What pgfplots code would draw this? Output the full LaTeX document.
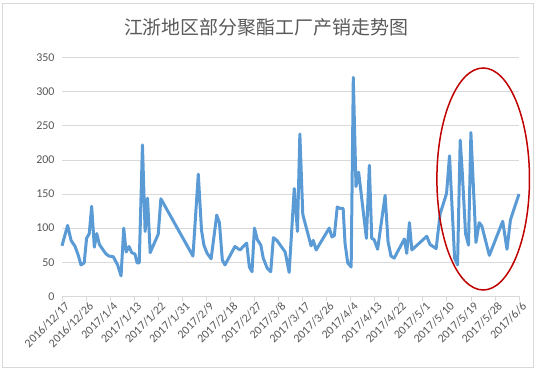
\documentclass[border=0pt]{standalone}
\usepackage{pgfplots}
\pgfplotsset{compat=1.18}
\usepackage{fontspec}
\setmainfont{Carlito}
\newfontfamily\cjk{Noto Sans CJK SC}
\definecolor{lineblue}{HTML}{5B9BD5}
\definecolor{gridgray}{HTML}{D9D9D9}
\definecolor{txtgray}{HTML}{595959}
\definecolor{ellred}{HTML}{C00000}
\begin{document}
\begin{tikzpicture}
\useasboundingbox (0,0) rectangle (539bp,372bp);
\draw[gridgray, line width=0.75bp] (2.5bp,5bp) rectangle (533.5bp,369bp);
\node[text=txtgray, font=\cjk\fontsize{19}{22}\selectfont] at (266bp,345bp) {江浙地区部分聚酯工厂产销走势图};
\begin{axis}[
  at={(62bp,75.7bp)}, anchor=south west,
  scale only axis, width=457bp, height=238.7bp,
  xmin=0, xmax=171, ymin=0, ymax=350,
  clip=false,
  axis lines*=left,
  x axis line style={draw=gridgray, line width=0.75bp},
  y axis line style={draw=none},
  ytick={0,50,...,350},
  xtick={0,9,...,171},
  xticklabels={2016/12/17,2016/12/26,2017/1/4,2017/1/13,2017/1/22,2017/1/31,2017/2/9,2017/2/18,2017/2/27,2017/3/8,2017/3/17,2017/3/26,2017/4/4,2017/4/13,2017/4/22,2017/5/1,2017/5/10,2017/5/19,2017/5/28,2017/6/6},
  xtick align=outside,
  xtick style={draw=gridgray, line width=0.75bp},
  major tick length=5bp,
  ytick style={draw=none},
  ymajorgrids,
  major grid style={draw=gridgray, line width=0.75bp},
  /pgf/number format/assume math mode=true,
  tick label style={font=\fontsize{12}{14}\selectfont, text=txtgray},
  yticklabel style={xshift=-4bp},
  xticklabel style={rotate=45, anchor=east, xshift=5bp, yshift=-6bp},
]
\addplot[lineblue, line width=3bp, line join=round] table[x=d, y=v] {
d v
0 74
2.1 104
3.4 82
4.9 73
6.1 60
7.1 46
8.3 49
9.2 85
10.2 92
11.1 132
12.1 72
13 92
14 76
15.2 69
16.5 62
17.6 59
19.2 58
20.8 46
22.1 30
23.1 100
24 65
25.1 73
26.1 64
27.3 62
28.1 49
28.9 49
30.1 222
31.1 95
32 144
33 64
36 91
37 143
49 59
51 179
52.2 97
53.1 75
54.3 63
55.8 55
57.9 119
58.9 108
60 53
61 46
64.7 73
66.6 68
69.1 78
70.1 43
71.1 36
72 100
73.1 83
74.4 75
75.3 56
76.8 41
78.1 36
79.1 86
80.4 82
83.5 65
85 35
86.9 158
88.1 95
89 238
90.1 120
93.2 74
94 82
95.1 68
100 100
101 87
101.9 89
103 131
104 129
105.2 129
105.9 78
106.9 49
108.2 43
109 321
110 161
111 182
113.9 85
115 192
115.9 85
116.8 83
118.1 69
120.9 148
122 80
123.1 59
124.3 56
128.1 84
129 63
130 108
130.9 68
136.5 88
137.7 76
140 70
141.5 121
143.9 151
145 206
146.9 56
148 46
149 229
149.8 180
151 92
152.1 75
153 240
154.9 79
156.1 108
157.1 103
159.9 60
164.9 110
166.5 69
167.8 112
171 150
};
\draw[ellred, line width=1.5bp] (axis cs:157.6,172) ellipse [x radius=46.3bp, y radius=111bp];
\end{axis}
\end{tikzpicture}
\end{document}
